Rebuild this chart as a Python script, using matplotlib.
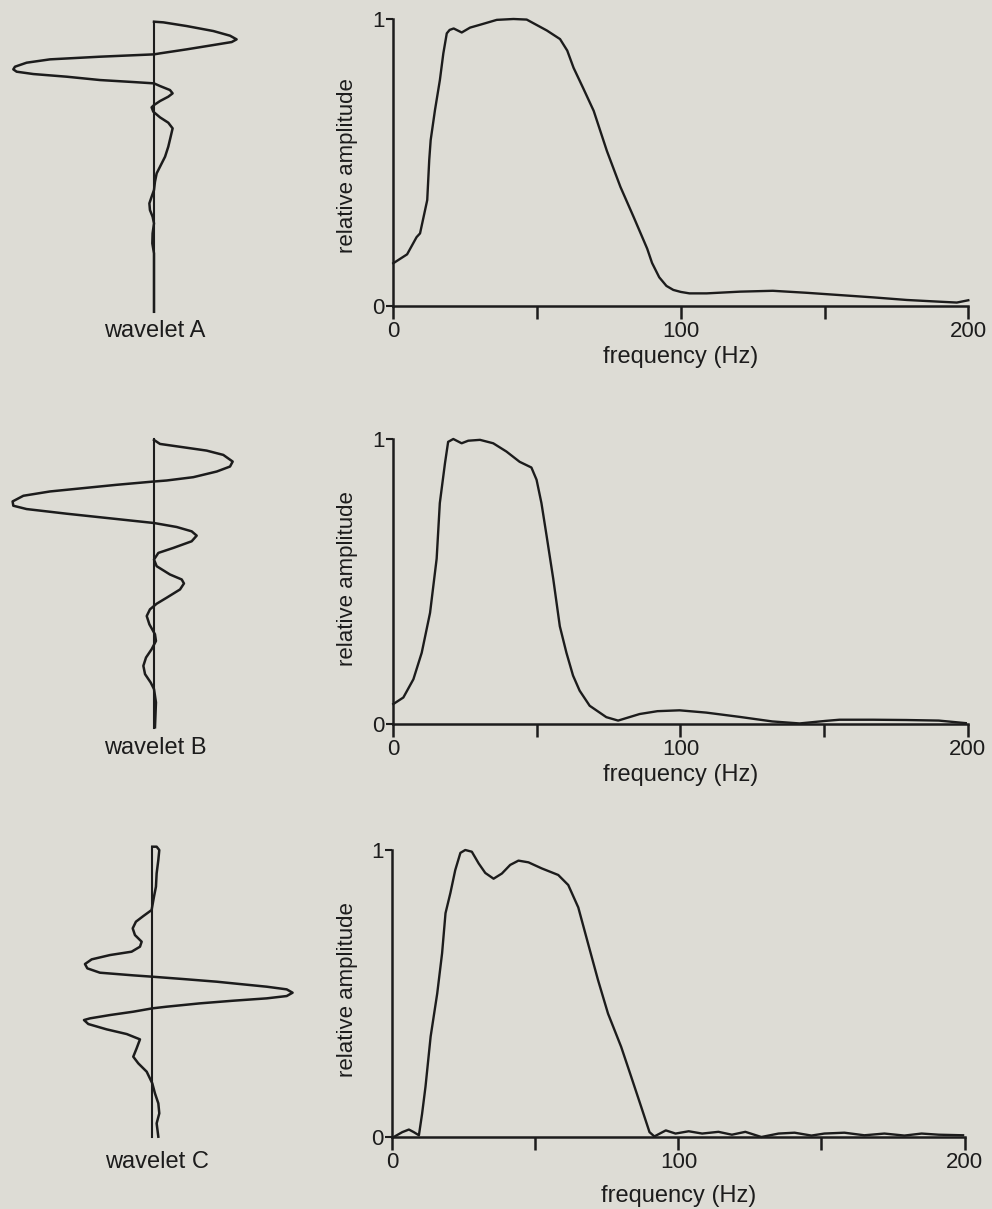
import matplotlib
matplotlib.use("Agg")
import matplotlib.pyplot as plt

plt.rcParams["font.family"] = ["Liberation Sans", "DejaVu Sans"]

# ---------------- data ----------------
# Amplitude spectra: frequency (Hz) and relative amplitude
freq_a = [0, 4.8, 8.1, 9.3, 11.8, 12.5, 13.0, 14.5, 16.2, 17.4, 18.6, 19.6, 21, 23.8, 26.7,
          30.2, 36, 41.8, 46.4, 53.4, 58, 60.5, 62.7, 66, 69.7, 74.3, 79, 83.6, 88.3, 90,
          92.5, 95, 97.4, 100, 103, 109, 120.6, 132, 143.8, 155.4, 167, 178.6, 190, 196,
          200]
amp_a = [0.149, 0.18, 0.24, 0.253, 0.369, 0.509, 0.578, 0.683, 0.787, 0.88, 0.95, 0.962,
         0.967, 0.953, 0.97, 0.98, 0.997, 1.0, 0.998, 0.96, 0.93, 0.89, 0.83, 0.76, 0.68,
         0.54, 0.415, 0.31, 0.2, 0.15, 0.1, 0.07, 0.056, 0.049, 0.044, 0.044, 0.05, 0.053,
         0.046, 0.038, 0.03, 0.021, 0.015, 0.012, 0.02]

freq_b = [0, 3.5, 7, 9.9, 12.8, 15.1, 16.2, 18, 19.1, 20.9, 23.8, 26.1, 30.2, 34.8, 39.4,
          44, 48.1, 49.9, 51.6, 53.4, 55.7, 58, 60.3, 62.6, 64.9, 68.4, 74.2, 78.3, 85.8,
          92, 99.7, 109, 120.6, 132, 141.5, 150.7, 155.4, 167, 178.6, 190, 199.4]
amp_b = [0.07, 0.093, 0.157, 0.25, 0.39, 0.58, 0.775, 0.915, 0.99, 1.0, 0.985, 0.994, 0.997,
         0.985, 0.956, 0.92, 0.9, 0.857, 0.775, 0.66, 0.51, 0.343, 0.25, 0.17, 0.117,
         0.064, 0.024, 0.012, 0.035, 0.045, 0.048, 0.04, 0.025, 0.009, 0.002, 0.011, 0.015,
         0.015, 0.014, 0.012, 0.003]

freq_c = [0.5, 3.5, 5.8, 7.5, 9.3, 10.4, 11.6, 13.4, 15.7, 17.4, 18.6, 20.3, 22, 23.8, 25.5,
          27.8, 30.2, 32.5, 35.4, 38.3, 41.2, 44.1, 47.6, 52.2, 58, 61.5, 65, 68.4, 71.9,
          75.4, 80, 83.5, 87, 89.9, 91.6, 95.6, 99, 103.6, 108.3, 114, 118.7, 123.4, 129,
          135, 140.6, 146.5, 151, 158, 165, 172, 179, 185, 191, 199.5]
amp_c = [0.0, 0.017, 0.026, 0.017, 0.006, 0.08, 0.175, 0.35, 0.5, 0.64, 0.78, 0.85, 0.93,
         0.99, 1.0, 0.994, 0.953, 0.92, 0.9, 0.918, 0.948, 0.963, 0.957, 0.936, 0.913, 0.878,
         0.8, 0.675, 0.547, 0.43, 0.314, 0.21, 0.105, 0.017, 0.002, 0.023, 0.012, 0.02, 0.012,
         0.018, 0.008, 0.018, 0.0, 0.012, 0.015, 0.005, 0.012, 0.015, 0.006, 0.012, 0.005,
         0.012, 0.008, 0.006]

# Wavelet traces: time (ms, downward) and normalised amplitude
time_a = [0, 0.33, 2.17, 4.67, 7.0, 8.83, 10.17, 11.67, 13.83, 15.83, 16.33, 17.5, 18.83,
          20.5, 22.5, 23.83, 25.0, 26.17, 27.5, 29.17, 30.17, 30.83, 32.17, 34.17, 35.83,
          37.5, 39.67, 41.67, 42.83, 45.0, 47.83, 50.5, 53.33, 57.5, 62.5, 67.5, 72.5,
          75.83, 80.0, 84.17, 87.5, 90.83, 94.17, 97.5, 100.83, 105.83, 110.83, 115.83,
          122.5, 145]
wav_a = [0, 0.067, 0.233, 0.424, 0.543, 0.59, 0.555, 0.424, 0.233, 0.043, 0, -0.386,
         -0.743, -0.91, -0.993, -1.005, -0.981, -0.862, -0.624, -0.386, -0.148, 0, 0.043,
         0.114, 0.133, 0.102, 0.043, 0, -0.017, -0.005, 0.043, 0.102, 0.133, 0.119, 0.102,
         0.079, 0.043, 0.019, 0.007, 0, -0.017, -0.033, -0.029, -0.01, 0, -0.01, -0.012,
         0, 0, 0]

time_b = [0.33, 2.33, 4.0, 5.67, 7.83, 11.17, 13.67, 16.17, 19.0, 20.67, 21.17, 22.83,
          24.5, 26.17, 28.33, 31.17, 33.33, 35.0, 37.33, 40.0, 42.0, 44.0, 46.17, 48.33,
          51.17, 54.5, 57.0, 60.33, 63.67, 67.83, 70.33, 72.33, 75.33, 79.5, 82.5, 85.33,
          88.67, 92.83, 97.83, 101.17, 105.33, 109.5, 113.67, 117.83, 122.0, 125.33, 132.0,
          144.5]
wav_b = [0, 0.043, 0.21, 0.376, 0.495, 0.562, 0.543, 0.448, 0.281, 0.09, 0, -0.267, -0.505,
         -0.743, -0.933, -1.01, -1.005, -0.91, -0.624, -0.267, 0, 0.162, 0.269, 0.305, 0.269,
         0.138, 0.031, 0, 0.019, 0.114, 0.198, 0.214, 0.186, 0.09, 0.019, -0.029, -0.052,
         -0.033, 0.007, 0.014, -0.017, -0.057, -0.076, -0.064, -0.024, 0, 0.014, 0.007]

time_c = [0, 0, 1.67, 6.67, 13.33, 20.0, 25.0, 31.67, 34.67, 37.5, 40.83, 44.17, 47.5, 50.0,
          52.5, 54.17, 56.33, 58.67, 60.83, 63.0, 64.33, 65.0, 66.17, 67.5, 68.67, 70.0,
          71.33, 73.0, 74.67, 75.83, 77.0, 78.33, 80.0, 80.83, 82.5, 84.17, 85.83, 86.67,
          88.67, 91.33, 93.67, 96.33, 100.83, 105.0, 108.33, 112.5, 118.33, 123.33, 128.33,
          133.33, 138.33, 145.0]
wav_c = [0, 0.031, 0.05, 0.043, 0.031, 0.026, 0.012, -0.005, -0.064, -0.117, -0.14, -0.124,
         -0.076, -0.088, -0.148, -0.302, -0.433, -0.481, -0.464, -0.374, -0.136, 0, 0.221,
         0.46, 0.626, 0.817, 0.96, 1.002, 0.96, 0.817, 0.579, 0.34, 0.102, 0, -0.136,
         -0.302, -0.445, -0.488, -0.457, -0.326, -0.183, -0.088, -0.112, -0.136, -0.1,
         -0.04, 0, 0.019, 0.043, 0.05, 0.031, 0.043]

wavelet_names = ["wavelet A", "wavelet B", "wavelet C"]
freq_ticks = [0, 50, 100, 150, 200]
freq_ticklabels = ["0", "", "100", "", "200"]
amp_ticks = [0, 1]
amp_ticklabels = ["0", "1"]

# ---------------- layout ----------------
W, H = 992, 1209
BG = "#dddcd5"
INK = "#1c1c1c"
FS_TICK = 16
FS_LABEL = 17
FS_YLABEL = 16

fig = plt.figure(figsize=(W / 100, H / 100), dpi=100)
fig.patch.set_facecolor(BG)


def box(x0, y0, x1, y1):
    return [x0 / W, 1 - y1 / H, (x1 - x0) / W, (y1 - y0) / H]


spectra = [(freq_a, amp_a), (freq_b, amp_b), (freq_c, amp_c)]
wavelets = [(time_a, wav_a), (time_b, wav_b), (time_c, wav_c)]

spec_boxes = [(393.3, 19, 968.3, 306), (393.3, 439, 967.5, 724), (392.3, 850, 964.5, 1137)]
wav_boxes = [(0, 21.7, 310, 311.7), (0, 439.3, 310, 728.3), (0, 846.7, 310, 1136.7)]
wav_centres = [154, 154, 152.3]
wav_label_pos = [(155, 331), (155, 748), (157, 1162)]
ylabel_y = [166, 579, 990]
xlabel_y = [357, 775, 1196]
UNIT = 140.0  # px per unit wavelet amplitude

for i in range(3):
    # spectrum panel
    ax = fig.add_axes(box(*spec_boxes[i]))
    ax.set_facecolor("none")
    f, a = spectra[i]
    ax.plot(f, a, color=INK, lw=1.7, clip_on=False, solid_joinstyle="round")
    ax.set_xlim(0, 200)
    ax.set_ylim(0, 1)
    for s in ("top", "right"):
        ax.spines[s].set_visible(False)
    for s in ("left", "bottom"):
        ax.spines[s].set_linewidth(1.8)
        ax.spines[s].set_color(INK)
    ax.set_xticks(freq_ticks)
    ax.set_xticklabels(freq_ticklabels)
    ax.set_yticks(amp_ticks)
    ax.set_yticklabels(amp_ticklabels)
    ax.tick_params(axis="x", direction="out", length=9, width=1.8, pad=2,
                   labelsize=FS_TICK, colors=INK)
    ax.tick_params(axis="y", direction="out", length=5, width=1.5, pad=1.5,
                   labelsize=FS_TICK, colors=INK)
    x0, y0, x1, y1 = spec_boxes[i]
    fig.text(347 / W, 1 - ylabel_y[i] / H, "relative amplitude", rotation=90,
             ha="center", va="center", fontsize=FS_YLABEL, color=INK)
    fig.text((x0 + x1) / 2 / W, 1 - xlabel_y[i] / H, "frequency (Hz)",
             ha="center", va="center", fontsize=FS_LABEL, color=INK)

    # wavelet trace
    wx0, wy0, wx1, wy1 = wav_boxes[i]
    c = wav_centres[i]
    wax = fig.add_axes(box(wx0, wy0, wx1, wy1))
    wax.set_facecolor("none")
    wax.set_xlim((wx0 - c) / UNIT, (wx1 - c) / UNIT)
    wax.set_ylim(145, 0)
    wax.axis("off")
    t, w = wavelets[i]
    wax.plot([0, 0], [0, 145], color=INK, lw=1.5, clip_on=False)
    wax.plot(w, t, color=INK, lw=1.8, clip_on=False, solid_joinstyle="round")
    lx, ly = wav_label_pos[i]
    fig.text(lx / W, 1 - ly / H, wavelet_names[i], ha="center", va="center",
             fontsize=FS_LABEL, color=INK)

fig.savefig("out.png", dpi=100, facecolor=BG)
